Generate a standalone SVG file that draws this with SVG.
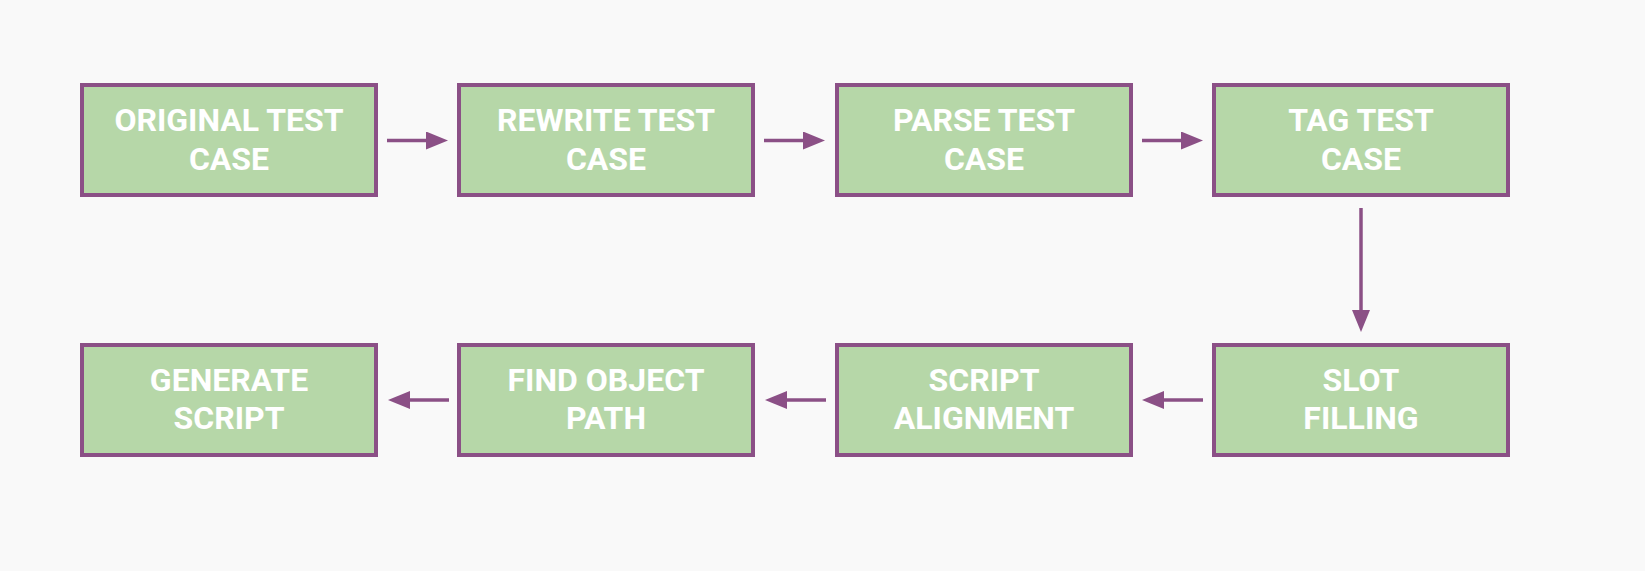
<svg xmlns="http://www.w3.org/2000/svg" width="1645" height="571" viewBox="0 0 1645 571">
<style>
.box rect{fill:#b6d7a8;stroke:#8b5086;stroke-width:4}
.box text{fill:#ffffff;font-family:Roboto,"Liberation Sans",sans-serif;font-weight:bold;font-size:32px;text-anchor:middle}
.conn line{stroke:#8b5086;stroke-width:3.5;marker-end:url(#ah)}
</style>
<defs>
<marker id="ah" markerUnits="userSpaceOnUse" markerWidth="22" markerHeight="18" refX="0" refY="9" orient="auto">
<path d="M0,0 L22,9 L0,18 Z" fill="#8b5086"/>
</marker>
</defs>
<rect width="1645" height="571" fill="#f9f9f9"/>
<g id="n1" class="box"><rect x="82" y="85" width="294" height="110"/><text x="229" y="130.5">ORIGINAL TEST</text><text x="229" y="169.5">CASE</text></g>
<g id="n2" class="box"><rect x="459" y="85" width="294" height="110"/><text x="606" y="130.5">REWRITE TEST</text><text x="606" y="169.5">CASE</text></g>
<g id="n3" class="box"><rect x="837" y="85" width="294" height="110"/><text x="984" y="130.5">PARSE TEST</text><text x="984" y="169.5">CASE</text></g>
<g id="n4" class="box"><rect x="1214" y="85" width="294" height="110"/><text x="1361" y="130.5">TAG TEST</text><text x="1361" y="169.5">CASE</text></g>
<g id="n5" class="box"><rect x="1214" y="345" width="294" height="110"/><text x="1361" y="390.5">SLOT</text><text x="1361" y="429">FILLING</text></g>
<g id="n6" class="box"><rect x="837" y="345" width="294" height="110"/><text x="984" y="390.5">SCRIPT</text><text x="984" y="429">ALIGNMENT</text></g>
<g id="n7" class="box"><rect x="459" y="345" width="294" height="110"/><text x="606" y="390.5">FIND OBJECT</text><text x="606" y="429">PATH</text></g>
<g id="n8" class="box"><rect x="82" y="345" width="294" height="110"/><text x="229" y="390.5">GENERATE</text><text x="229" y="429">SCRIPT</text></g>
<g id="connectors" class="conn">
<line x1="387" y1="140.5" x2="426" y2="140.5"/>
<line x1="764" y1="140.5" x2="803" y2="140.5"/>
<line x1="1142" y1="140.5" x2="1181" y2="140.5"/>
<line x1="1361" y1="208" x2="1361" y2="310"/>
<line x1="1203" y1="400" x2="1164" y2="400"/>
<line x1="826" y1="400" x2="787" y2="400"/>
<line x1="449" y1="400" x2="410" y2="400"/>
</g>
</svg>
